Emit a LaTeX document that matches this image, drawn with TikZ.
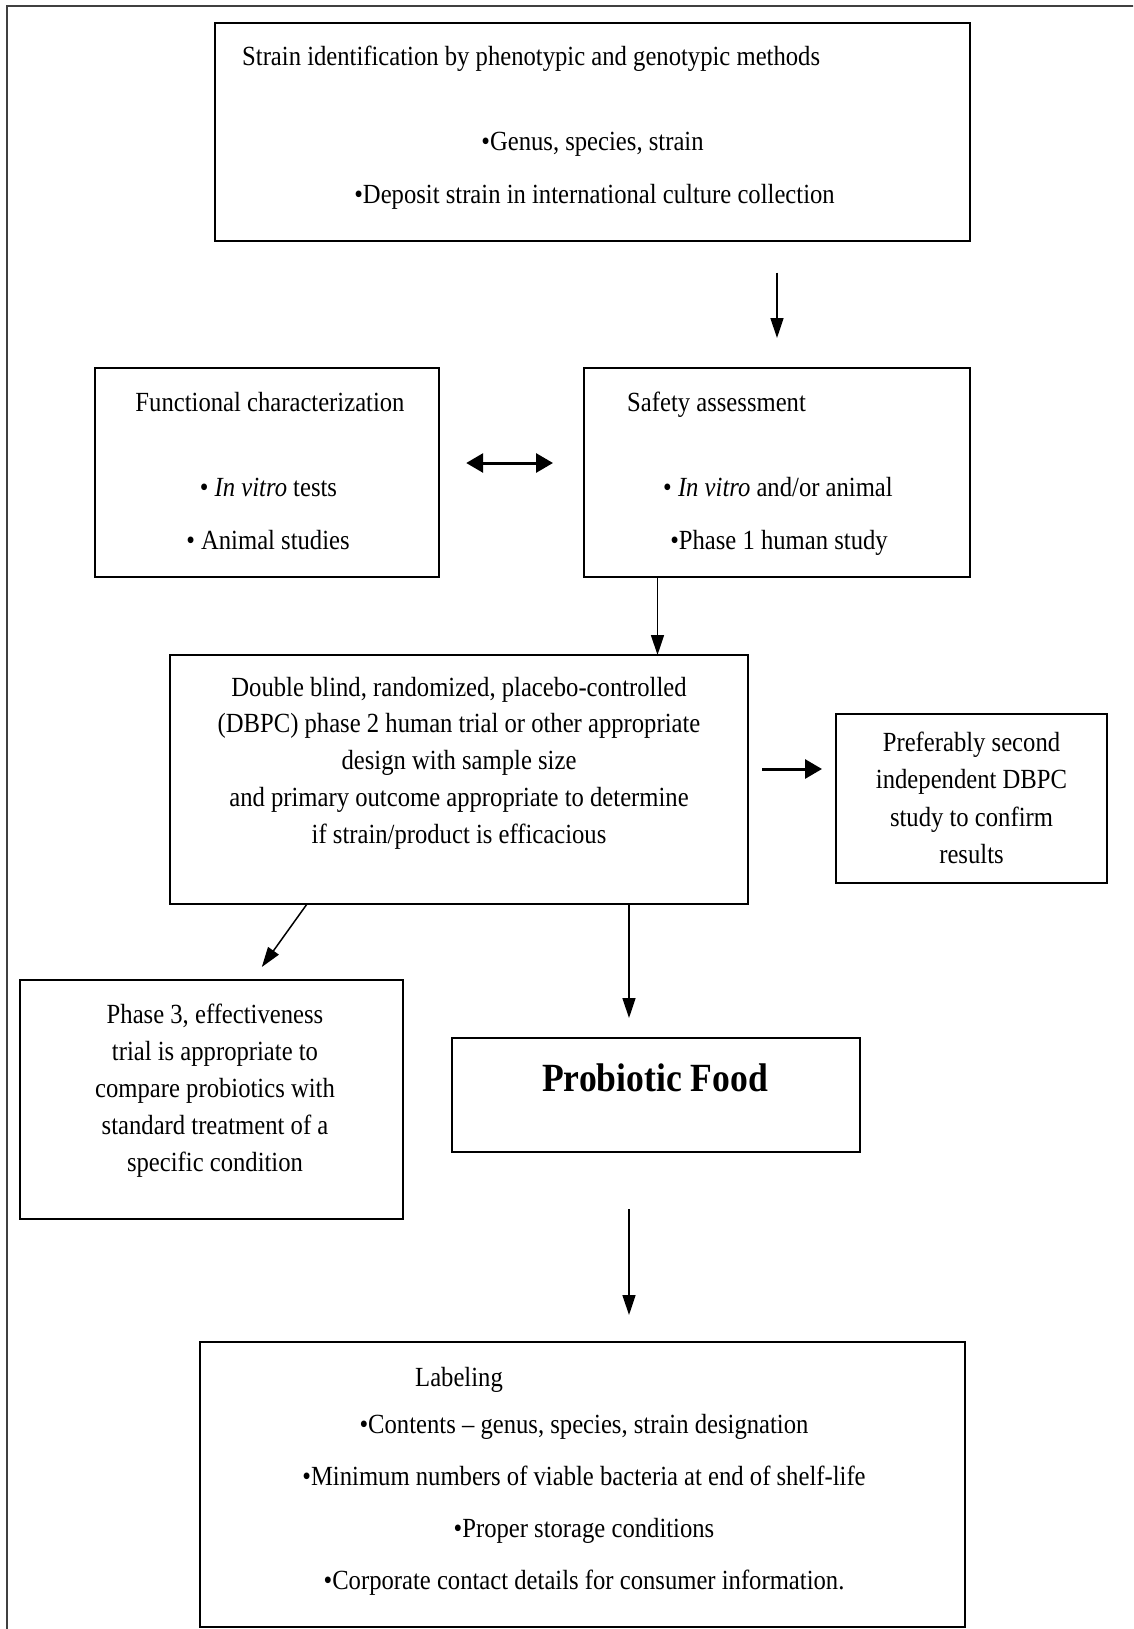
\documentclass[tikz,border=0pt]{standalone}
\usepackage{fontspec}
\setmainfont[FakeStretch=0.89]{Liberation Serif}
\usetikzlibrary{arrows.meta}

\begin{document}
\begin{tikzpicture}[
  x=1pt, y=-1pt,
  font=\fontsize{27.7}{37}\selectfont,
  stage/.style={draw, line width=2pt, inner sep=0pt, outer sep=0pt},
  txt/.style={anchor=base, inner sep=0pt},
  arr/.style={line width=1.5pt, -{Triangle[length=20pt,width=13pt]}},
  barr/.style={line width=3pt, -{Triangle[length=17pt,width=19pt]}},
]
\useasboundingbox (0,0) rectangle (1133,1629);
\clip (0,0) rectangle (1133,1629);

% ---------- page frame ----------
\draw[line width=1.5pt, black!75] (1150,6) -| (7,1650);

% ---------- boxes ----------
\node[stage, minimum width=755pt, minimum height=218pt] (strain) at (592.3,131.7) {};
\node[stage, minimum width=344pt, minimum height=209pt] (func)   at (267.2,472.5) {};
\node[stage, minimum width=386pt, minimum height=209pt] (safety) at (777,472.5) {};
\node[stage, minimum width=578pt, minimum height=249pt] (dbpc)   at (459,779.5) {};
\node[stage, minimum width=271pt, minimum height=169pt] (confirm) at (971.5,798.5) {};
\node[stage, minimum width=383pt, minimum height=239pt] (phase3) at (211.5,1099.5) {};
\node[stage, minimum width=408pt, minimum height=114pt] (food)   at (656,1095) {};
\node[stage, minimum width=765pt, minimum height=285pt] (labeling) at (582.5,1484.5) {};

% ---------- strain identification ----------
\node[txt, anchor=base west] (strain-t) at (242,66) {Strain identification by phenotypic and genotypic methods};
\node[txt] (strain-1) at (592.5,151) {•Genus, species, strain};
\node[txt] (strain-2) at (594.5,204) {•Deposit strain in international culture collection};

% ---------- functional / safety ----------
\node[txt] (func-t) at (270,411) {Functional characterization};
\node[txt] (func-1) at (268.5,496) {• \textit{In vitro} tests};
\node[txt] (func-2) at (268,549) {• Animal studies};

\node[txt, anchor=base west] (safety-t) at (627,411) {Safety assessment};
\node[txt] (safety-1) at (778,496) {• \textit{In vitro} and/or animal};
\node[txt] (safety-2) at (779,549) {•Phase 1 human study};

% ---------- DBPC trial ----------
\foreach \t [count=\i] in {{Double blind, randomized, placebo-controlled},
  {(DBPC) phase 2 human trial or other appropriate},
  {design with sample size},
  {and primary outcome appropriate to determine},
  {if strain/product is efficacious}}
  \node[txt] (dbpc-\i) at (459,{659.25+36.75*\i}) {\t};

\foreach \t [count=\i] in {{Preferably second},
  {independent DBPC},
  {study to confirm},
  {results}}
  \node[txt] (confirm-\i) at (971.5,{713.4+37.6*\i}) {\t};

% ---------- phase 3 / food ----------
\foreach \t [count=\i] in {{Phase 3, effectiveness},
  {trial is appropriate to},
  {compare probiotics with},
  {standard treatment of a},
  {specific condition}}
  \node[txt] (phase3-\i) at (215,{986+37*\i}) {\t};

\node[txt, font=\fontsize{40}{48}\selectfont\bfseries] (food-t) at (655,1091) {Probiotic Food};

% ---------- labeling ----------
\node[txt, anchor=base west] (labeling-t) at (415,1386) {Labeling};
\foreach \t [count=\i] in {{•Contents – genus, species, strain designation},
  {•Minimum numbers of viable bacteria at end of shelf-life},
  {•Proper storage conditions},
  {•Corporate contact details for consumer information.}}
  \node[txt] (labeling-\i) at (584,{1381+52*\i}) {\t};

% ---------- connectors ----------
\draw[arr, shorten <=32pt, shorten >=30pt] (safety.north |- strain.south) -- (safety.north);
\draw[barr, {Triangle[length=17pt,width=19pt]}-{Triangle[length=17pt,width=19pt]}, shorten <=27pt, shorten >=31pt]
  ([yshift=9.5pt]func.east) -- ([yshift=9.5pt]safety.west);
\draw[arr] ([xshift=-119.5pt]safety.south) -- ([xshift=-119.5pt]safety.south |- dbpc.north);
\draw[barr, shorten <=14pt, shorten >=14pt] ([yshift=10.5pt]dbpc.east) -- ([yshift=10.5pt]dbpc.east -| confirm.west);
\draw[arr, shorten >=16pt] ([xshift=-152pt]dbpc.south) -- ([xshift=41pt]phase3.north);
\draw[arr, shorten >=20pt] ([xshift=-27pt]food.north |- dbpc.south) -- ([xshift=-27pt]food.north);
\draw[arr, shorten <=57pt, shorten >=27pt] ([xshift=-27pt]food.south) -- ([xshift=-27pt]food.south |- labeling.north);

\end{tikzpicture}
\end{document}
